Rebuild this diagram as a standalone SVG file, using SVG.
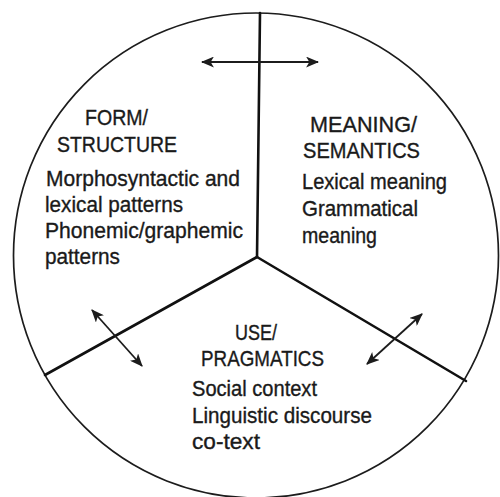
<svg xmlns="http://www.w3.org/2000/svg" width="500" height="497" viewBox="0 0 500 497">
  <style>
    .rim { fill: none; stroke: #1c1c1c; stroke-width: 1.7; }
    .divider { fill: none; stroke: #111111; stroke-width: 2.6; stroke-linecap: round; }
    .link { fill: none; stroke: #1c1c1c; stroke-width: 1.8; marker-start: url(#head); marker-end: url(#head); }
    text { font-family: "Liberation Sans", Arial, sans-serif; font-size: 21.5px; fill: #1a1a1a; stroke: #1a1a1a; stroke-width: 0.35; }
  </style>
  <defs>
    <marker id="head" viewBox="0 0 12 10" refX="11" refY="5" markerWidth="13" markerHeight="11" markerUnits="userSpaceOnUse" orient="auto-start-reverse">
      <path d="M0,0 L12,5 L0,10 L3,5 Z" fill="#1c1c1c"/>
    </marker>
  </defs>

  <rect width="500" height="497" fill="#ffffff"/>

  <!-- outer circle and the three sector dividers -->
  <g id="frame">
    <circle class="rim" cx="256" cy="255.5" r="242.5"/>
    <line class="divider" x1="260" y1="13" x2="257" y2="257"/>
    <line class="divider" x1="257" y1="257" x2="45" y2="375"/>
    <line class="divider" x1="257" y1="257" x2="466" y2="381"/>
  </g>

  <!-- two-headed arrows crossing each divider -->
  <g id="connectors">
    <line class="link" x1="202" y1="62" x2="318" y2="62"/>
    <line class="link" x1="92" y1="310" x2="142" y2="366"/>
    <line class="link" x1="422" y1="314" x2="367" y2="364"/>
  </g>

  <g id="form">
    <text x="85" y="125" textLength="63" lengthAdjust="spacingAndGlyphs">FORM/</text>
    <text x="57" y="152" textLength="120" lengthAdjust="spacingAndGlyphs">STRUCTURE</text>
    <text x="46" y="186" textLength="194" lengthAdjust="spacingAndGlyphs">Morphosyntactic and</text>
    <text x="45" y="212" textLength="138" lengthAdjust="spacingAndGlyphs">lexical patterns</text>
    <text x="45" y="238" textLength="198" lengthAdjust="spacingAndGlyphs">Phonemic/graphemic</text>
    <text x="45" y="264" textLength="75" lengthAdjust="spacingAndGlyphs">patterns</text>
  </g>

  <g id="meaning">
    <text x="310" y="132" textLength="107" lengthAdjust="spacingAndGlyphs">MEANING/</text>
    <text x="303" y="158" textLength="117" lengthAdjust="spacingAndGlyphs">SEMANTICS</text>
    <text x="302" y="189" textLength="145" lengthAdjust="spacingAndGlyphs">Lexical meaning</text>
    <text x="302" y="216" textLength="116" lengthAdjust="spacingAndGlyphs">Grammatical</text>
    <text x="302" y="243" textLength="75" lengthAdjust="spacingAndGlyphs">meaning</text>
  </g>

  <g id="use">
    <text x="235" y="340" textLength="42" lengthAdjust="spacingAndGlyphs">USE/</text>
    <text x="201" y="366" textLength="123" lengthAdjust="spacingAndGlyphs">PRAGMATICS</text>
    <text x="192" y="396" textLength="125" lengthAdjust="spacingAndGlyphs">Social context</text>
    <text x="192" y="423" textLength="180" lengthAdjust="spacingAndGlyphs">Linguistic discourse</text>
    <text x="192" y="449" textLength="68" lengthAdjust="spacingAndGlyphs">co-text</text>
  </g>
</svg>
